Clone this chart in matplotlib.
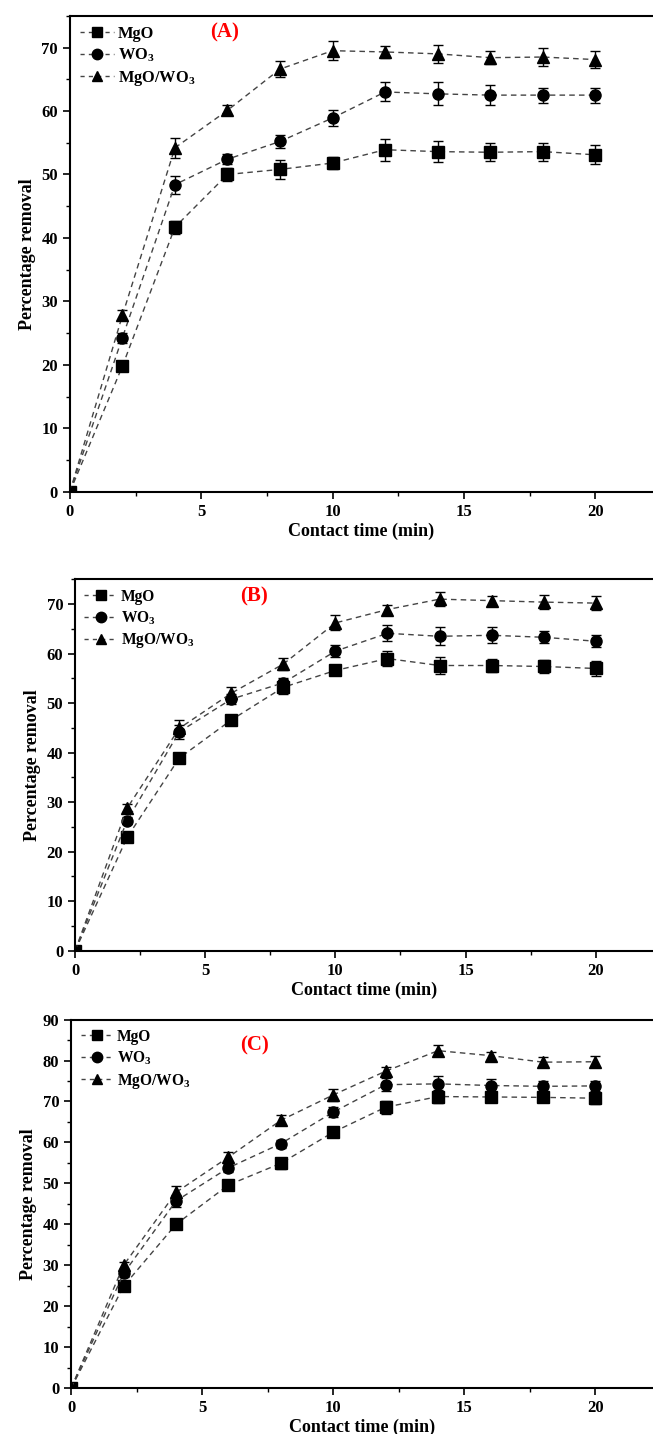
import matplotlib
matplotlib.use("Agg")
import matplotlib.pyplot as plt
from matplotlib.ticker import MultipleLocator
from matplotlib.lines import Line2D

plt.rcParams['font.family'] = ['Liberation Serif', 'DejaVu Serif']
plt.rcParams['font.weight'] = 'bold'
plt.rcParams['mathtext.fontset'] = 'custom'
plt.rcParams['mathtext.rm'] = 'Liberation Serif:bold'
plt.rcParams['mathtext.it'] = 'Liberation Serif:bold'
plt.rcParams['mathtext.bf'] = 'Liberation Serif:bold'

time = [0, 2, 4, 6, 8, 10, 12, 14, 16, 18, 20]
labels = ['MgO', 'WO$_3$', 'MgO/WO$_3$']
markers = ['s', 'o', '^']

# Panel A
a_mgo = [0, 19.8, 41.7, 50.0, 50.8, 51.8, 53.9, 53.6, 53.5, 53.6, 53.1]
a_wo3 = [0, 24.3, 48.4, 52.4, 55.2, 58.9, 63.0, 62.7, 62.5, 62.5, 62.5]
a_mix = [0, 27.8, 54.2, 60.1, 66.6, 69.5, 69.3, 69.0, 68.4, 68.5, 68.1]
a_err_mgo = [0.2, 0.6, 1.0, 1.0, 1.5, 1.0, 1.7, 1.6, 1.4, 1.4, 1.5]
a_err_wo3 = [0.2, 0.8, 1.4, 0.8, 1.0, 1.2, 1.5, 1.8, 1.6, 1.2, 1.2]
a_err_mix = [0.2, 0.8, 1.6, 0.8, 1.3, 1.5, 1.0, 1.4, 1.0, 1.4, 1.3]

# Panel B
b_mgo = [0, 22.9, 38.9, 46.6, 53.2, 56.6, 59.0, 57.6, 57.6, 57.4, 57.0]
b_wo3 = [0, 26.3, 44.2, 50.8, 54.1, 60.5, 64.1, 63.5, 63.7, 63.3, 62.5]
b_mix = [0, 28.8, 44.9, 52.0, 57.9, 66.2, 68.9, 71.0, 70.7, 70.4, 70.2]
b_err_mgo = [0.2, 0.6, 1.0, 0.8, 1.4, 1.0, 1.6, 1.7, 1.4, 1.4, 1.6]
b_err_wo3 = [0.2, 0.8, 1.4, 1.0, 1.0, 1.2, 1.6, 1.8, 1.6, 1.2, 1.2]
b_err_mix = [0.2, 0.8, 1.6, 1.2, 1.3, 1.5, 1.0, 1.4, 1.0, 1.4, 1.4]

# Panel C
c_mgo = [0, 24.9, 40.0, 49.6, 54.9, 62.5, 68.6, 71.2, 71.1, 71.0, 70.8]
c_wo3 = [0, 28.0, 45.7, 53.8, 59.7, 67.4, 74.1, 74.3, 73.9, 73.7, 73.8]
c_mix = [0, 30.0, 47.8, 56.4, 65.4, 71.6, 77.4, 82.4, 81.2, 79.6, 79.7]
c_err_mgo = [0.2, 0.6, 1.0, 0.8, 1.4, 1.0, 1.6, 1.6, 1.2, 1.0, 1.4]
c_err_wo3 = [0.2, 0.8, 1.4, 1.0, 1.0, 1.2, 1.6, 1.8, 1.6, 1.2, 1.2]
c_err_mix = [0.2, 0.8, 1.6, 1.2, 1.2, 1.4, 1.0, 1.4, 1.0, 1.2, 1.4]

panels = [
    ("(A)", [a_mgo, a_wo3, a_mix], [a_err_mgo, a_err_wo3, a_err_mix], 75,
     [0.107, 0.657, 0.893, 0.332], (0.24, 0.965), 11.8),
    ("(B)", [b_mgo, b_wo3, b_mix], [b_err_mgo, b_err_wo3, b_err_mix], 75,
     [0.115, 0.337, 0.885, 0.259], (0.285, 0.955), 11.2),
    ("(C)", [c_mgo, c_wo3, c_mix], [c_err_mgo, c_err_wo3, c_err_mix], 90,
     [0.109, 0.032, 0.891, 0.257], (0.29, 0.93), 11.2),
]

fig = plt.figure(figsize=(6.53, 14.34), dpi=100)

for tag, series, errs, ymax, pos, tagpos, legsize in panels:
    ax = fig.add_axes(pos)
    handles = []
    for vals, err, lab, mk in zip(series, errs, labels, markers):
        ax.errorbar(time, vals, yerr=err, fmt='none', ecolor='black',
                    capsize=3.5, elinewidth=1.0, capthick=1.0, zorder=3)
        ax.plot(time, vals, linestyle=(0, (4, 3)), color='#444444', linewidth=1.0,
                marker=mk, markersize=8, markerfacecolor='black',
                markeredgecolor='black', zorder=4)
        handles.append(Line2D([], [], linestyle=(0, (3, 3)), color='#444444',
                              linewidth=1.0, marker=mk, markersize=7.5,
                              markerfacecolor='black', markeredgecolor='black',
                              label=lab))
    ax.set_xlim(0, 22.2)
    ax.set_ylim(0, ymax)
    ax.xaxis.set_major_locator(MultipleLocator(5))
    ax.xaxis.set_minor_locator(MultipleLocator(2.5))
    ax.yaxis.set_major_locator(MultipleLocator(10))
    ax.yaxis.set_minor_locator(MultipleLocator(5))
    ax.tick_params(which='major', direction='out', length=5, width=1.2, labelsize=12)
    ax.tick_params(which='minor', direction='out', length=3, width=1.0)
    for lab in ax.get_xticklabels() + ax.get_yticklabels():
        lab.set_fontweight('bold')
    ax.spines['right'].set_visible(False)
    for s in ['left', 'top', 'bottom']:
        ax.spines[s].set_linewidth(1.5)
    ax.set_xlabel('Contact time (min)', fontsize=13, fontweight='bold', labelpad=2)
    ax.set_ylabel('Percentage removal', fontsize=13, fontweight='bold', labelpad=4)
    leg = ax.legend(handles=handles, loc='upper left', frameon=False, fontsize=legsize,
                    handlelength=2.1, handletextpad=0.25, labelspacing=0.3,
                    borderaxespad=0.2)
    for t in leg.get_texts():
        t.set_fontweight('bold')
    ax.text(tagpos[0], tagpos[1], tag, transform=ax.transAxes, color='red',
            fontsize=15, fontweight='bold', ha='left', va='center')

fig.savefig('out.png', dpi=100)
